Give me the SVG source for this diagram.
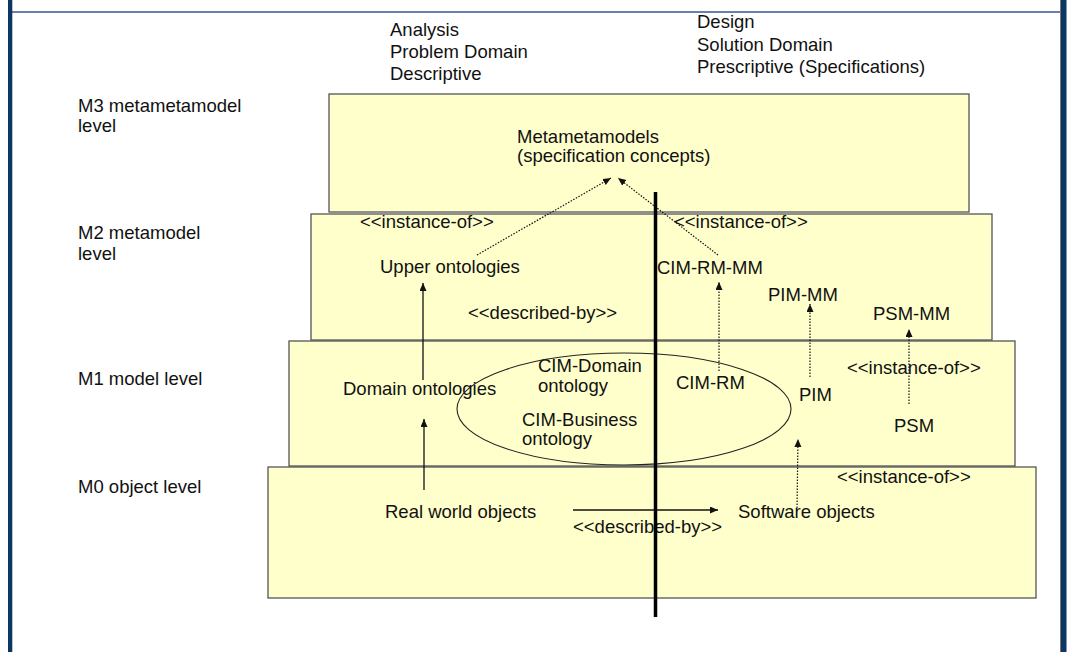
<svg xmlns="http://www.w3.org/2000/svg" width="1072" height="652" viewBox="0 0 1072 652">
<style>
text{font-family:"Liberation Sans",Arial,sans-serif;font-size:18.5px;fill:#111}
.lvl{fill:#ffffcc;stroke:#555;stroke-width:1.3}
.solid{stroke:#111;stroke-width:1.3;fill:none}
.dot{stroke:#111;stroke-width:1.2;stroke-dasharray:1.5 1.5;fill:none}
</style>
<defs>
<marker id="ah" markerWidth="9" markerHeight="8" refX="8" refY="3.5" orient="auto" markerUnits="userSpaceOnUse">
<path d="M0,0 L8,3.5 L0,7 z" fill="#111"/>
</marker>
</defs>
<rect width="1072" height="652" fill="#fff"/>
<g id="frame">
<line x1="12" y1="12" x2="1061" y2="12" stroke="#3a5590" stroke-width="1.5"/>
<rect x="8" y="0" width="4.3" height="652" fill="#0d3763"/>
<rect x="1060" y="0" width="1" height="652" fill="#777"/>
<rect x="1061" y="0" width="5.5" height="652" fill="#0d3763"/>
</g>
<g id="headers">
<text x="390" y="36">Analysis</text>
<text x="390" y="58">Problem Domain</text>
<text x="390" y="80">Descriptive</text>
<text x="697" y="28">Design</text>
<text x="697" y="51">Solution Domain</text>
<text x="697" y="73">Prescriptive (Specifications)</text>
</g>
<g id="level-labels">
<text x="78" y="112">M3 metametamodel</text>
<text x="78" y="132">level</text>
<text x="78" y="239">M2 metamodel</text>
<text x="78" y="260">level</text>
<text x="78" y="385">M1 model level</text>
<text x="78" y="493">M0 object level</text>
</g>
<g id="m3">
<rect class="lvl" x="329" y="94" width="640" height="118"/>
<text x="517" y="143">Metametamodels</text>
<text x="517" y="162">(specification concepts)</text>
</g>
<g id="m2">
<rect class="lvl" x="311" y="214" width="681" height="126"/>
<text x="360" y="228">&lt;&lt;instance-of&gt;&gt;</text>
<text x="674" y="228">&lt;&lt;instance-of&gt;&gt;</text>
<text x="380" y="273">Upper ontologies</text>
<text x="657" y="274">CIM-RM-MM</text>
<text x="768" y="301">PIM-MM</text>
<text x="873" y="320">PSM-MM</text>
<text x="468" y="319">&lt;&lt;described-by&gt;&gt;</text>
</g>
<g id="m1">
<rect class="lvl" x="289" y="341" width="726" height="125"/>
<text x="343" y="395">Domain ontologies</text>
<text x="538" y="372">CIM-Domain</text>
<text x="538" y="392">ontology</text>
<text x="522" y="426">CIM-Business</text>
<text x="522" y="445">ontology</text>
<text x="676" y="389">CIM-RM</text>
<text x="799" y="401">PIM</text>
<text x="894" y="432">PSM</text>
<text x="847" y="374">&lt;&lt;instance-of&gt;&gt;</text>
<ellipse id="cim-group" cx="624" cy="409" rx="167" ry="56" fill="none" stroke="#222" stroke-width="1.1"/>
</g>
<g id="m0">
<rect class="lvl" x="268" y="467" width="768" height="131" stroke="#222"/>
<text x="385" y="518">Real world objects</text>
<text x="738" y="518">Software objects</text>
<text x="573" y="533">&lt;&lt;described-by&gt;&gt;</text>
<text x="837" y="483">&lt;&lt;instance-of&gt;&gt;</text>
</g>
<g id="connectors">
<line class="dot" x1="477" y1="255" x2="611" y2="178" marker-end="url(#ah)"/>
<line class="dot" x1="718" y1="255" x2="618" y2="178" marker-end="url(#ah)"/>
<line class="solid" x1="423" y1="380" x2="423" y2="283" marker-end="url(#ah)"/>
<line class="solid" x1="424" y1="490" x2="424" y2="419" marker-end="url(#ah)"/>
<line class="solid" x1="573" y1="510" x2="718" y2="510" marker-end="url(#ah)"/>
<line class="dot" x1="719" y1="371" x2="719" y2="282" marker-end="url(#ah)"/>
<line class="dot" x1="810" y1="377" x2="810" y2="304" marker-end="url(#ah)"/>
<line class="dot" x1="909" y1="404" x2="909" y2="329" marker-end="url(#ah)"/>
<line class="dot" x1="797" y1="508" x2="798" y2="439" marker-end="url(#ah)"/>
<line id="divider" x1="655.5" y1="192" x2="655.5" y2="617" stroke="#000" stroke-width="3.5"/>
</g>
</svg>
